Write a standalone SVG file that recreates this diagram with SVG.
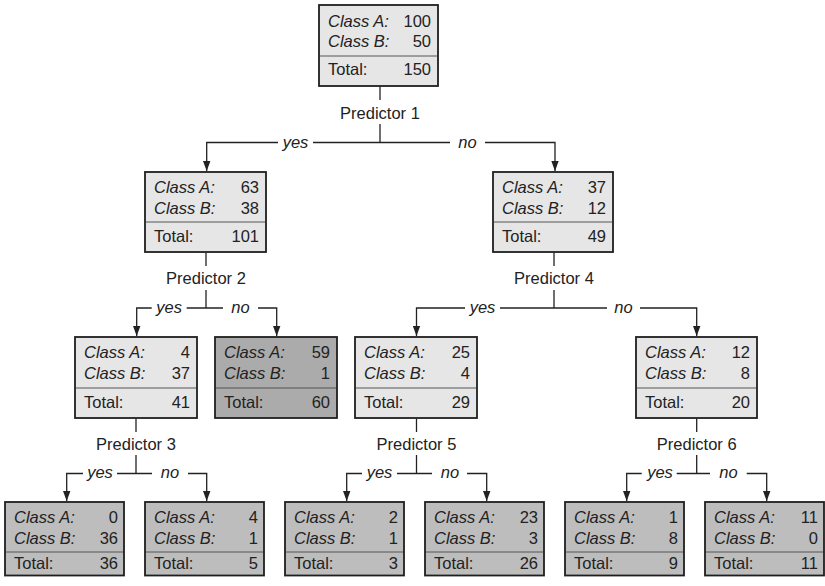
<svg xmlns="http://www.w3.org/2000/svg" width="825" height="586" viewBox="0 0 825 586">
<style>
.box{stroke:#1e1e1e;stroke-width:1.8}
.light{fill:#e6e6e6}
.leaf{fill:#bdbdbd}
.dark{fill:#ababab}
.dv{stroke:#555;stroke-width:1}
text{font-family:"Liberation Sans",Arial,sans-serif;font-size:16.5px;fill:#222}
.it{font-style:italic}
.num{text-anchor:end}
.mid{text-anchor:middle}
#connectors path{fill:none;stroke:#222;stroke-width:1.3}
#connectors path.arr{marker-end:url(#ah)}
</style>
<defs>
<marker id="ah" viewBox="0 0 10 8" refX="10" refY="4" markerWidth="10" markerHeight="8" markerUnits="userSpaceOnUse" orient="auto">
<path d="M0,0.3 L10,4 L0,7.7 z" fill="#222"/>
</marker>
</defs>
<rect width="825" height="586" fill="#fff"/>

<g id="connectors">
<path d="M380,86.5 V100"/><path d="M380,124 V142.5"/>
<path class="arr" d="M278,142.5 H206.7 V171"/><path d="M313,142.5 H450"/><path class="arr" d="M485,142.5 H555 V171"/>
<path d="M206,252.5 V266"/><path d="M206,290 V308"/>
<path class="arr" d="M151.7,308 H136.7 V336"/><path d="M186.7,308 H223"/><path class="arr" d="M258,308 H276.7 V336"/>
<path d="M554,252.5 V266"/><path d="M554,290 V308"/>
<path class="arr" d="M465,308 H416.5 V336"/><path d="M500,308 H607"/><path class="arr" d="M640,308 H696.7 V336"/>
<path d="M136,418.5 V432"/><path d="M136,455 V473.5"/>
<path class="arr" d="M83,473.5 H66.7 V501"/><path d="M117,473.5 H152"/><path class="arr" d="M188,473.5 H206.7 V501"/>
<path d="M416.5,418.5 V432"/><path d="M416.5,455 V473.5"/>
<path class="arr" d="M362,473.5 H346.7 V501"/><path d="M397,473.5 H432"/><path class="arr" d="M467,473.5 H486.7 V501"/>
<path d="M696.7,418.5 V432"/><path d="M696.7,455 V473.5"/>
<path class="arr" d="M641.7,473.5 H626.7 V501"/><path d="M676.7,473.5 H710"/><path class="arr" d="M746.7,473.5 H766.7 V501"/>
<text class="mid" x="380" y="118.5">Predictor 1</text>
<text class="mid it" x="295.5" y="147.5">yes</text>
<text class="mid it" x="467.5" y="147.5">no</text>
<text class="mid" x="206" y="284">Predictor 2</text>
<text class="mid it" x="169.2" y="313">yes</text>
<text class="mid it" x="240.5" y="313">no</text>
<text class="mid" x="554" y="284">Predictor 4</text>
<text class="mid it" x="482.5" y="313">yes</text>
<text class="mid it" x="623.5" y="313">no</text>
<text class="mid" x="136" y="449.5">Predictor 3</text>
<text class="mid it" x="100" y="478">yes</text>
<text class="mid it" x="170" y="478">no</text>
<text class="mid" x="416.5" y="449.5">Predictor 5</text>
<text class="mid it" x="379.5" y="478">yes</text>
<text class="mid it" x="450" y="478">no</text>
<text class="mid" x="696.7" y="449.5">Predictor 6</text>
<text class="mid it" x="660" y="478">yes</text>
<text class="mid it" x="728.5" y="478">no</text>
</g>

<g id="n0">
<rect class="box light" x="319" y="5" width="119" height="81"/>
<line class="dv" x1="320" y1="56" x2="437" y2="56"/>
<text class="it" x="328" y="26.5">Class A:</text><text class="num" x="431" y="26.5">100</text>
<text class="it" x="328" y="47">Class B:</text><text class="num" x="431" y="47">50</text>
<text x="328" y="74.5">Total:</text><text class="num" x="431" y="74.5">150</text>
</g>

<g id="n1">
<rect class="box light" x="145" y="172" width="121" height="80"/>
<line class="dv" x1="146" y1="222" x2="265" y2="222"/>
<text class="it" x="154" y="192.5">Class A:</text><text class="num" x="259" y="192.5">63</text>
<text class="it" x="154" y="213.5">Class B:</text><text class="num" x="259" y="213.5">38</text>
<text x="154" y="242">Total:</text><text class="num" x="259" y="242">101</text>
</g>

<g id="n2">
<rect class="box light" x="493" y="172" width="120" height="80"/>
<line class="dv" x1="494" y1="222" x2="612" y2="222"/>
<text class="it" x="502" y="192.5">Class A:</text><text class="num" x="606" y="192.5">37</text>
<text class="it" x="502" y="213.5">Class B:</text><text class="num" x="606" y="213.5">12</text>
<text x="502" y="242">Total:</text><text class="num" x="606" y="242">49</text>
</g>

<g id="n3">
<rect class="box light" x="75" y="337" width="122" height="81"/>
<line class="dv" x1="76" y1="388" x2="196" y2="388"/>
<text class="it" x="84" y="358">Class A:</text><text class="num" x="190" y="358">4</text>
<text class="it" x="84" y="379">Class B:</text><text class="num" x="190" y="379">37</text>
<text x="84" y="407.5">Total:</text><text class="num" x="190" y="407.5">41</text>
</g>

<g id="n4">
<rect class="box dark" x="215" y="337" width="122" height="81"/>
<line class="dv" x1="216" y1="388" x2="336" y2="388"/>
<text class="it" x="224" y="358">Class A:</text><text class="num" x="330" y="358">59</text>
<text class="it" x="224" y="379">Class B:</text><text class="num" x="330" y="379">1</text>
<text x="224" y="407.5">Total:</text><text class="num" x="330" y="407.5">60</text>
</g>

<g id="n5">
<rect class="box light" x="355" y="337" width="122" height="81"/>
<line class="dv" x1="356" y1="388" x2="476" y2="388"/>
<text class="it" x="364" y="358">Class A:</text><text class="num" x="470" y="358">25</text>
<text class="it" x="364" y="379">Class B:</text><text class="num" x="470" y="379">4</text>
<text x="364" y="407.5">Total:</text><text class="num" x="470" y="407.5">29</text>
</g>

<g id="n6">
<rect class="box light" x="636" y="337" width="121" height="81"/>
<line class="dv" x1="637" y1="388" x2="756" y2="388"/>
<text class="it" x="645" y="358">Class A:</text><text class="num" x="750" y="358">12</text>
<text class="it" x="645" y="379">Class B:</text><text class="num" x="750" y="379">8</text>
<text x="645" y="407.5">Total:</text><text class="num" x="750" y="407.5">20</text>
</g>

<g id="l1">
<rect class="box leaf" x="5" y="502" width="119" height="73.5"/>
<line class="dv" x1="6" y1="552" x2="123" y2="552"/>
<text class="it" x="14" y="523">Class A:</text><text class="num" x="118" y="523">0</text>
<text class="it" x="14" y="544">Class B:</text><text class="num" x="118" y="544">36</text>
<text x="14" y="569">Total:</text><text class="num" x="118" y="569">36</text>
</g>

<g id="l2">
<rect class="box leaf" x="145" y="502" width="119" height="73.5"/>
<line class="dv" x1="146" y1="552" x2="263" y2="552"/>
<text class="it" x="154" y="523">Class A:</text><text class="num" x="258" y="523">4</text>
<text class="it" x="154" y="544">Class B:</text><text class="num" x="258" y="544">1</text>
<text x="154" y="569">Total:</text><text class="num" x="258" y="569">5</text>
</g>

<g id="l3">
<rect class="box leaf" x="285" y="502" width="119" height="73.5"/>
<line class="dv" x1="286" y1="552" x2="403" y2="552"/>
<text class="it" x="294" y="523">Class A:</text><text class="num" x="398" y="523">2</text>
<text class="it" x="294" y="544">Class B:</text><text class="num" x="398" y="544">1</text>
<text x="294" y="569">Total:</text><text class="num" x="398" y="569">3</text>
</g>

<g id="l4">
<rect class="box leaf" x="425" y="502" width="119" height="73.5"/>
<line class="dv" x1="426" y1="552" x2="543" y2="552"/>
<text class="it" x="434" y="523">Class A:</text><text class="num" x="538" y="523">23</text>
<text class="it" x="434" y="544">Class B:</text><text class="num" x="538" y="544">3</text>
<text x="434" y="569">Total:</text><text class="num" x="538" y="569">26</text>
</g>

<g id="l5">
<rect class="box leaf" x="565" y="502" width="119" height="73.5"/>
<line class="dv" x1="566" y1="552" x2="683" y2="552"/>
<text class="it" x="574" y="523">Class A:</text><text class="num" x="678" y="523">1</text>
<text class="it" x="574" y="544">Class B:</text><text class="num" x="678" y="544">8</text>
<text x="574" y="569">Total:</text><text class="num" x="678" y="569">9</text>
</g>

<g id="l6">
<rect class="box leaf" x="705" y="502" width="119" height="73.5"/>
<line class="dv" x1="706" y1="552" x2="823" y2="552"/>
<text class="it" x="714" y="523">Class A:</text><text class="num" x="818" y="523">11</text>
<text class="it" x="714" y="544">Class B:</text><text class="num" x="818" y="544">0</text>
<text x="714" y="569">Total:</text><text class="num" x="818" y="569">11</text>
</g>
</svg>
